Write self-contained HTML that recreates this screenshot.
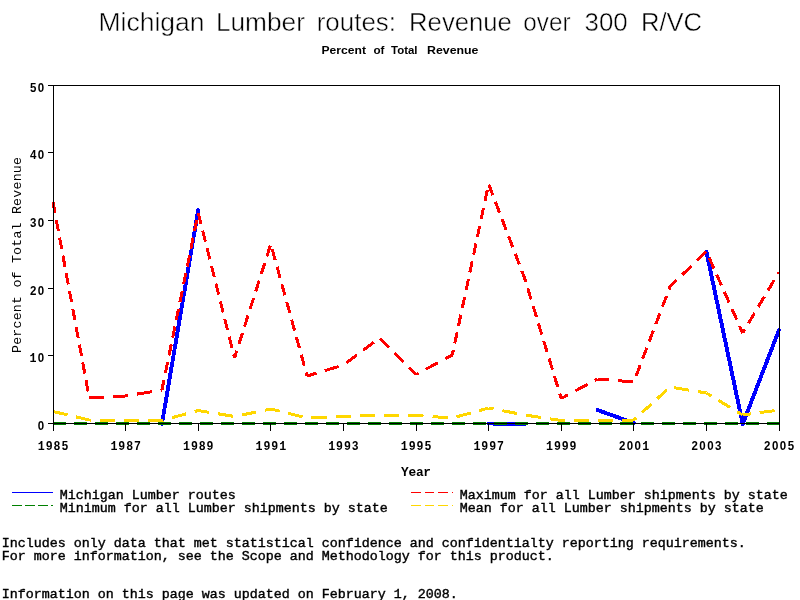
<!DOCTYPE html>
<html><head><meta charset="utf-8"><title>Michigan Lumber routes</title>
<style>html,body{margin:0;padding:0;background:#fff;overflow:hidden}svg{display:block;will-change:transform}</style></head>
<body>
<svg width="800" height="600" viewBox="0 0 800 600">
<rect width="800" height="600" fill="#fff"/>
<g shape-rendering="crispEdges" fill="none" stroke-width="3" stroke-linecap="butt" stroke-linejoin="miter">
<polyline points="161.9,424.0 198.2,210.0" stroke="#0000ff" stroke-width="3.9" stroke-linecap="round" stroke-linejoin="round"/>
<polyline points="488.6,423.5 524.9,424.0" stroke="#0000ff" stroke-width="3.9" stroke-linecap="round" stroke-linejoin="round"/>
<polyline points="597.5,410.0 633.8,423.0" stroke="#0000ff" stroke-width="3.9" stroke-linecap="round" stroke-linejoin="round"/>
<polyline points="706.4,251.5 742.7,424.0 779.0,330.0" stroke="#0000ff" stroke-width="3.9" stroke-linecap="round" stroke-linejoin="round"/>
<path d="M53.00 202.00L55.06 213.14M56.30 219.83L58.37 230.97M59.60 237.66L61.67 248.80M62.91 255.49L64.97 266.63M66.21 273.32L68.27 284.46M69.51 291.14L71.57 302.29M72.81 308.97L74.88 320.12M76.11 326.80L78.18 337.94M79.42 344.63L81.48 355.77M82.72 362.46L84.78 373.60M86.02 380.29L88.08 391.43M89.46 397.99L104.42 397.17M113.39 396.67L125.60 396.00M125.60 396.00L128.30 395.55M137.08 394.10L151.73 391.68M160.52 390.23L161.90 390.00M161.90 390.00L163.97 379.93M165.33 373.26L167.61 362.14M168.98 355.46L171.26 344.35M172.63 337.67L174.91 326.55M176.28 319.88L178.56 308.76M179.93 302.09L182.21 290.97M183.58 284.30L185.86 273.18M187.23 266.51L189.51 255.39M190.87 248.72L193.15 237.60M194.52 230.93L196.80 219.81M198.17 213.14L198.20 213.00M198.20 213.00L200.93 223.92M202.59 230.55L205.36 241.61M207.02 248.24L209.79 259.30M211.45 265.94L214.22 276.99M215.88 283.63L218.65 294.68M220.31 301.32L223.08 312.37M224.74 319.01L227.51 330.06M229.17 336.70L231.94 347.76M233.60 354.39L234.50 358.00M234.50 358.00L236.85 350.63M238.94 344.07L242.42 333.12M244.51 326.56L248.00 315.62M250.09 309.05L253.57 298.11M255.66 291.54L259.15 280.60M261.24 274.03L264.72 263.09M266.81 256.53L270.30 245.58M272.18 249.01L275.21 260.03M277.03 266.64L280.06 277.66M281.88 284.27L284.90 295.29M286.72 301.90L289.75 312.92M291.57 319.53L294.60 330.55M296.42 337.16L299.45 348.18M301.27 354.79L304.30 365.81M306.11 372.42L307.10 376.00M307.10 376.00L316.49 373.16M324.83 370.63L338.74 366.41M346.22 362.90L356.87 354.98M363.26 350.23L373.91 342.31M380.21 338.51L389.18 347.53M394.56 352.94L403.52 361.96M408.91 367.37L416.00 374.50M416.00 374.50L418.55 373.13M425.86 369.20L438.06 362.65M445.38 358.72L452.30 355.00M452.30 355.00L453.32 350.20M454.73 343.53L457.09 332.42M458.51 325.76L460.87 314.65M462.28 307.98L464.64 296.87M466.06 290.20L468.41 279.09M469.83 272.43L472.19 261.32M473.60 254.65L475.96 243.54M477.38 236.88L479.73 225.77M481.15 219.10L483.51 207.99M484.92 201.32L487.28 190.21M488.77 184.44L492.90 195.26M495.38 201.74L499.51 212.56M501.99 219.05L506.12 229.86M508.60 236.35L512.74 247.17M515.22 253.65L519.35 264.47M521.83 270.96L524.90 279.00M524.90 279.00L525.75 281.81M527.75 288.39L531.09 299.36M533.08 305.94L536.42 316.91M538.42 323.49L541.75 334.46M543.75 341.04L547.08 352.01M549.08 358.60L552.41 369.56M554.41 376.15L557.74 387.11M559.74 393.70L561.20 398.50M561.20 398.50L568.05 394.82M575.37 390.89L587.56 384.34M594.88 380.41L597.50 379.00M597.50 379.00L609.21 379.97M618.15 380.71L633.06 381.94M636.06 376.04L640.18 365.22M642.64 358.73L646.76 347.91M649.22 341.42L653.34 330.60M655.80 324.11L659.92 313.29M662.38 306.80L666.50 295.98M668.96 289.49L670.10 286.50M670.10 286.50L676.76 280.07M682.29 274.75L691.50 265.87M697.03 260.54L706.23 251.66M709.17 257.71L713.92 268.38M716.77 274.78L721.52 285.45M724.37 291.86L729.13 302.53M731.98 308.93L736.73 319.60M739.58 326.00L742.70 333.00M742.70 333.00L744.80 329.47M748.47 323.30L754.59 313.03M758.25 306.86L764.37 296.59M768.03 290.43L774.15 280.15M777.82 273.99L779.00 272.00" stroke="#ff0000"/>
<path d="M53.00 423.00L66.00 423.00M74.00 423.00L87.00 423.00M95.00 423.00L108.00 423.00M116.00 423.00L125.60 423.00M125.60 423.00L129.00 423.00M137.00 423.00L150.00 423.00M158.00 423.00L161.90 423.00M161.90 423.00L171.00 423.00M179.00 423.00L192.00 423.00M200.00 423.00L213.00 423.00M221.00 423.00L234.00 423.00M242.00 423.00L255.00 423.00M263.00 423.00L270.80 423.00M270.80 423.00L276.00 423.00M284.00 423.00L297.00 423.00M305.00 423.00L307.10 423.00M307.10 423.00L318.00 423.00M326.00 423.00L339.00 423.00M347.00 423.00L360.00 423.00M368.00 423.00L379.70 423.00M379.70 423.00L381.00 423.00M389.00 423.00L402.00 423.00M410.00 423.00L416.00 423.00M416.00 423.00L423.00 423.00M431.00 423.00L444.00 423.00M452.00 423.00L452.30 423.00M452.30 423.00L465.00 423.00M473.00 423.00L486.00 423.00M494.00 423.00L507.00 423.00M515.00 423.00L524.90 423.00M524.90 423.00L528.00 423.00M536.00 423.00L549.00 423.00M557.00 423.00L561.20 423.00M561.20 423.00L570.00 423.00M578.00 423.00L591.00 423.00M599.00 423.00L612.00 423.00M620.00 423.00L633.00 423.00M641.00 423.00L654.00 423.00M662.00 423.00L670.10 423.00M670.10 423.00L675.00 423.00M683.00 423.00L696.00 423.00M704.00 423.00L706.40 423.00M706.40 423.00L717.00 423.00M725.00 423.00L738.00 423.00M746.00 423.00L759.00 423.00M767.00 423.00L779.00 423.00" stroke="#008000"/>
<path d="M53.00 411.50L67.46 414.89M76.15 416.92L89.30 420.00M89.30 420.00L90.67 420.02M99.77 420.14L114.92 420.35M124.02 420.48L125.60 420.50M125.60 420.50L139.17 420.50M148.27 420.50L161.90 420.50M161.90 420.50L163.32 420.11M171.86 417.75L186.09 413.84M194.63 411.48L198.20 410.50M198.20 410.50L209.28 412.33M218.17 413.80L232.96 416.25M241.75 415.00L256.36 411.98M265.13 410.17L270.80 409.00M270.80 409.00L279.60 411.18M288.24 413.32L302.63 416.89M311.48 417.82L326.61 417.19M335.70 416.82L343.40 416.50M343.40 416.50L350.82 416.19M359.91 415.82L375.04 415.19M384.13 415.06L399.28 415.27M408.37 415.39L416.00 415.50M416.00 415.50L423.49 416.02M432.55 416.64L447.64 417.68M456.45 416.86L470.67 412.94M479.21 410.59L488.60 408.00M488.60 408.00L493.59 408.96M502.40 410.66L517.07 413.49M525.90 415.15L540.75 417.40M549.67 418.75L561.20 420.50M561.20 420.50L564.58 420.50M573.68 420.50L588.83 420.50M597.93 420.49L613.08 420.29M622.18 420.16L633.80 420.00M633.80 420.00L636.05 417.96M641.84 412.69L651.48 403.93M657.27 398.66L666.91 389.90M674.09 387.66L688.89 390.11M697.77 391.57L706.40 393.00M706.40 393.00L711.31 395.98M718.39 400.27L730.17 407.41M737.25 411.70L742.70 415.00M742.70 415.00L750.71 413.90M759.66 412.66L774.56 410.61" stroke="#ffd700"/>
</g>
<g shape-rendering="crispEdges" fill="none" stroke="#000" stroke-width="1">
<rect x="53.5" y="85.5" width="726" height="338"/>
<line x1="48" x2="53" y1="423.5" y2="423.5"/>
<line x1="48" x2="53" y1="355.5" y2="355.5"/>
<line x1="48" x2="53" y1="288.5" y2="288.5"/>
<line x1="48" x2="53" y1="220.5" y2="220.5"/>
<line x1="48" x2="53" y1="152.5" y2="152.5"/>
<line x1="48" x2="53" y1="85.5" y2="85.5"/>
<line x1="53.5" x2="53.5" y1="423" y2="431"/>
<line x1="125.5" x2="125.5" y1="423" y2="431"/>
<line x1="198.5" x2="198.5" y1="423" y2="431"/>
<line x1="270.5" x2="270.5" y1="423" y2="431"/>
<line x1="343.5" x2="343.5" y1="423" y2="431"/>
<line x1="416.5" x2="416.5" y1="423" y2="431"/>
<line x1="488.5" x2="488.5" y1="423" y2="431"/>
<line x1="561.5" x2="561.5" y1="423" y2="431"/>
<line x1="633.5" x2="633.5" y1="423" y2="431"/>
<line x1="706.5" x2="706.5" y1="423" y2="431"/>
<line x1="779.5" x2="779.5" y1="423" y2="431"/>
</g>
<g shape-rendering="crispEdges" fill="none" stroke-width="1">
<line x1="12" x2="53" y1="492.5" y2="492.5" stroke="#0000ff"/>
<line x1="12" x2="53" y1="505.5" y2="505.5" stroke="#008000" stroke-dasharray="10 3"/>
<line x1="411" x2="453" y1="492.5" y2="492.5" stroke="#ff0000" stroke-dasharray="9.5 4"/>
<line x1="411" x2="453" y1="505.5" y2="505.5" stroke="#ffd700" stroke-dasharray="9.5 4"/>
</g>
<g font-family="'Liberation Sans', sans-serif" fill="#000">
<text x="98.5" y="31" font-size="25.2" textLength="106.0" lengthAdjust="spacingAndGlyphs" stroke="#fff" stroke-width="0.45">Michigan</text>
<text x="215.9" y="31" font-size="25.2" textLength="89.1" lengthAdjust="spacingAndGlyphs" stroke="#fff" stroke-width="0.45">Lumber</text>
<text x="316.7" y="31" font-size="25.2" textLength="79.3" lengthAdjust="spacingAndGlyphs" stroke="#fff" stroke-width="0.45">routes:</text>
<text x="409.1" y="31" font-size="25.2" textLength="102.7" lengthAdjust="spacingAndGlyphs" stroke="#fff" stroke-width="0.45">Revenue</text>
<text x="523.3" y="31" font-size="25.2" textLength="47.2" lengthAdjust="spacingAndGlyphs" stroke="#fff" stroke-width="0.45">over</text>
<text x="584.5" y="31" font-size="25.2" textLength="43.2" lengthAdjust="spacingAndGlyphs" stroke="#fff" stroke-width="0.45">300</text>
<text x="640.9" y="31" font-size="25.2" textLength="61.2" lengthAdjust="spacingAndGlyphs" stroke="#fff" stroke-width="0.45">R/VC</text>
<text x="321.5" y="53.7" font-size="11" font-weight="bold" textLength="44.5" lengthAdjust="spacingAndGlyphs">Percent</text>
<text x="373.5" y="53.7" font-size="11" font-weight="bold" textLength="11.0" lengthAdjust="spacingAndGlyphs">of</text>
<text x="391.0" y="53.7" font-size="11" font-weight="bold" textLength="26.5" lengthAdjust="spacingAndGlyphs">Total</text>
<text x="427.0" y="53.7" font-size="11" font-weight="bold" textLength="51.5" lengthAdjust="spacingAndGlyphs">Revenue</text>
</g>
<g font-family="'Liberation Mono', monospace" fill="#000" font-size="13.33">
<text x="37.75" y="429.9" font-family="'Liberation Sans', sans-serif" font-weight="bold" font-size="13" textLength="6.4" lengthAdjust="spacingAndGlyphs">0</text>
<text x="29.60" y="361.9" font-family="'Liberation Mono', monospace" font-weight="bold" font-size="13.4" textLength="7" lengthAdjust="spacingAndGlyphs">1</text>
<text x="37.75" y="361.9" font-family="'Liberation Sans', sans-serif" font-weight="bold" font-size="13" textLength="6.4" lengthAdjust="spacingAndGlyphs">0</text>
<text x="29.90" y="294.9" font-family="'Liberation Sans', sans-serif" font-weight="bold" font-size="13" textLength="6.4" lengthAdjust="spacingAndGlyphs">2</text>
<text x="37.75" y="294.9" font-family="'Liberation Sans', sans-serif" font-weight="bold" font-size="13" textLength="6.4" lengthAdjust="spacingAndGlyphs">0</text>
<text x="29.90" y="226.9" font-family="'Liberation Sans', sans-serif" font-weight="bold" font-size="13" textLength="6.4" lengthAdjust="spacingAndGlyphs">3</text>
<text x="37.75" y="226.9" font-family="'Liberation Sans', sans-serif" font-weight="bold" font-size="13" textLength="6.4" lengthAdjust="spacingAndGlyphs">0</text>
<text x="29.90" y="158.9" font-family="'Liberation Sans', sans-serif" font-weight="bold" font-size="13" textLength="6.4" lengthAdjust="spacingAndGlyphs">4</text>
<text x="37.75" y="158.9" font-family="'Liberation Sans', sans-serif" font-weight="bold" font-size="13" textLength="6.4" lengthAdjust="spacingAndGlyphs">0</text>
<text x="29.90" y="91.9" font-family="'Liberation Sans', sans-serif" font-weight="bold" font-size="13" textLength="6.4" lengthAdjust="spacingAndGlyphs">5</text>
<text x="37.75" y="91.9" font-family="'Liberation Sans', sans-serif" font-weight="bold" font-size="13" textLength="6.4" lengthAdjust="spacingAndGlyphs">0</text>
<text x="37.80" y="450.2" font-family="'Liberation Mono', monospace" font-weight="bold" font-size="13.4" textLength="7" lengthAdjust="spacingAndGlyphs">1</text>
<text x="45.95" y="450.2" font-family="'Liberation Sans', sans-serif" font-weight="bold" font-size="13" textLength="6.4" lengthAdjust="spacingAndGlyphs">9</text>
<text x="53.80" y="450.2" font-family="'Liberation Sans', sans-serif" font-weight="bold" font-size="13" textLength="6.4" lengthAdjust="spacingAndGlyphs">8</text>
<text x="61.65" y="450.2" font-family="'Liberation Sans', sans-serif" font-weight="bold" font-size="13" textLength="6.4" lengthAdjust="spacingAndGlyphs">5</text>
<text x="110.40" y="450.2" font-family="'Liberation Mono', monospace" font-weight="bold" font-size="13.4" textLength="7" lengthAdjust="spacingAndGlyphs">1</text>
<text x="118.55" y="450.2" font-family="'Liberation Sans', sans-serif" font-weight="bold" font-size="13" textLength="6.4" lengthAdjust="spacingAndGlyphs">9</text>
<text x="126.40" y="450.2" font-family="'Liberation Sans', sans-serif" font-weight="bold" font-size="13" textLength="6.4" lengthAdjust="spacingAndGlyphs">8</text>
<text x="134.25" y="450.2" font-family="'Liberation Sans', sans-serif" font-weight="bold" font-size="13" textLength="6.4" lengthAdjust="spacingAndGlyphs">7</text>
<text x="183.00" y="450.2" font-family="'Liberation Mono', monospace" font-weight="bold" font-size="13.4" textLength="7" lengthAdjust="spacingAndGlyphs">1</text>
<text x="191.15" y="450.2" font-family="'Liberation Sans', sans-serif" font-weight="bold" font-size="13" textLength="6.4" lengthAdjust="spacingAndGlyphs">9</text>
<text x="199.00" y="450.2" font-family="'Liberation Sans', sans-serif" font-weight="bold" font-size="13" textLength="6.4" lengthAdjust="spacingAndGlyphs">8</text>
<text x="206.85" y="450.2" font-family="'Liberation Sans', sans-serif" font-weight="bold" font-size="13" textLength="6.4" lengthAdjust="spacingAndGlyphs">9</text>
<text x="255.60" y="450.2" font-family="'Liberation Mono', monospace" font-weight="bold" font-size="13.4" textLength="7" lengthAdjust="spacingAndGlyphs">1</text>
<text x="263.75" y="450.2" font-family="'Liberation Sans', sans-serif" font-weight="bold" font-size="13" textLength="6.4" lengthAdjust="spacingAndGlyphs">9</text>
<text x="271.60" y="450.2" font-family="'Liberation Sans', sans-serif" font-weight="bold" font-size="13" textLength="6.4" lengthAdjust="spacingAndGlyphs">9</text>
<text x="279.15" y="450.2" font-family="'Liberation Mono', monospace" font-weight="bold" font-size="13.4" textLength="7" lengthAdjust="spacingAndGlyphs">1</text>
<text x="328.20" y="450.2" font-family="'Liberation Mono', monospace" font-weight="bold" font-size="13.4" textLength="7" lengthAdjust="spacingAndGlyphs">1</text>
<text x="336.35" y="450.2" font-family="'Liberation Sans', sans-serif" font-weight="bold" font-size="13" textLength="6.4" lengthAdjust="spacingAndGlyphs">9</text>
<text x="344.20" y="450.2" font-family="'Liberation Sans', sans-serif" font-weight="bold" font-size="13" textLength="6.4" lengthAdjust="spacingAndGlyphs">9</text>
<text x="352.05" y="450.2" font-family="'Liberation Sans', sans-serif" font-weight="bold" font-size="13" textLength="6.4" lengthAdjust="spacingAndGlyphs">3</text>
<text x="400.80" y="450.2" font-family="'Liberation Mono', monospace" font-weight="bold" font-size="13.4" textLength="7" lengthAdjust="spacingAndGlyphs">1</text>
<text x="408.95" y="450.2" font-family="'Liberation Sans', sans-serif" font-weight="bold" font-size="13" textLength="6.4" lengthAdjust="spacingAndGlyphs">9</text>
<text x="416.80" y="450.2" font-family="'Liberation Sans', sans-serif" font-weight="bold" font-size="13" textLength="6.4" lengthAdjust="spacingAndGlyphs">9</text>
<text x="424.65" y="450.2" font-family="'Liberation Sans', sans-serif" font-weight="bold" font-size="13" textLength="6.4" lengthAdjust="spacingAndGlyphs">5</text>
<text x="473.40" y="450.2" font-family="'Liberation Mono', monospace" font-weight="bold" font-size="13.4" textLength="7" lengthAdjust="spacingAndGlyphs">1</text>
<text x="481.55" y="450.2" font-family="'Liberation Sans', sans-serif" font-weight="bold" font-size="13" textLength="6.4" lengthAdjust="spacingAndGlyphs">9</text>
<text x="489.40" y="450.2" font-family="'Liberation Sans', sans-serif" font-weight="bold" font-size="13" textLength="6.4" lengthAdjust="spacingAndGlyphs">9</text>
<text x="497.25" y="450.2" font-family="'Liberation Sans', sans-serif" font-weight="bold" font-size="13" textLength="6.4" lengthAdjust="spacingAndGlyphs">7</text>
<text x="546.00" y="450.2" font-family="'Liberation Mono', monospace" font-weight="bold" font-size="13.4" textLength="7" lengthAdjust="spacingAndGlyphs">1</text>
<text x="554.15" y="450.2" font-family="'Liberation Sans', sans-serif" font-weight="bold" font-size="13" textLength="6.4" lengthAdjust="spacingAndGlyphs">9</text>
<text x="562.00" y="450.2" font-family="'Liberation Sans', sans-serif" font-weight="bold" font-size="13" textLength="6.4" lengthAdjust="spacingAndGlyphs">9</text>
<text x="569.85" y="450.2" font-family="'Liberation Sans', sans-serif" font-weight="bold" font-size="13" textLength="6.4" lengthAdjust="spacingAndGlyphs">9</text>
<text x="618.90" y="450.2" font-family="'Liberation Sans', sans-serif" font-weight="bold" font-size="13" textLength="6.4" lengthAdjust="spacingAndGlyphs">2</text>
<text x="626.75" y="450.2" font-family="'Liberation Sans', sans-serif" font-weight="bold" font-size="13" textLength="6.4" lengthAdjust="spacingAndGlyphs">0</text>
<text x="634.60" y="450.2" font-family="'Liberation Sans', sans-serif" font-weight="bold" font-size="13" textLength="6.4" lengthAdjust="spacingAndGlyphs">0</text>
<text x="642.15" y="450.2" font-family="'Liberation Mono', monospace" font-weight="bold" font-size="13.4" textLength="7" lengthAdjust="spacingAndGlyphs">1</text>
<text x="691.50" y="450.2" font-family="'Liberation Sans', sans-serif" font-weight="bold" font-size="13" textLength="6.4" lengthAdjust="spacingAndGlyphs">2</text>
<text x="699.35" y="450.2" font-family="'Liberation Sans', sans-serif" font-weight="bold" font-size="13" textLength="6.4" lengthAdjust="spacingAndGlyphs">0</text>
<text x="707.20" y="450.2" font-family="'Liberation Sans', sans-serif" font-weight="bold" font-size="13" textLength="6.4" lengthAdjust="spacingAndGlyphs">0</text>
<text x="715.05" y="450.2" font-family="'Liberation Sans', sans-serif" font-weight="bold" font-size="13" textLength="6.4" lengthAdjust="spacingAndGlyphs">3</text>
<text x="764.10" y="450.2" font-family="'Liberation Sans', sans-serif" font-weight="bold" font-size="13" textLength="6.4" lengthAdjust="spacingAndGlyphs">2</text>
<text x="771.95" y="450.2" font-family="'Liberation Sans', sans-serif" font-weight="bold" font-size="13" textLength="6.4" lengthAdjust="spacingAndGlyphs">0</text>
<text x="779.80" y="450.2" font-family="'Liberation Sans', sans-serif" font-weight="bold" font-size="13" textLength="6.4" lengthAdjust="spacingAndGlyphs">0</text>
<text x="787.65" y="450.2" font-family="'Liberation Sans', sans-serif" font-weight="bold" font-size="13" textLength="6.4" lengthAdjust="spacingAndGlyphs">5</text>
<text x="401" y="475.5" font-weight="bold" font-size="12.8" textLength="30" lengthAdjust="spacing">Year</text>
<text transform="translate(20.5,353) rotate(-90)" x="0" y="0" textLength="196" lengthAdjust="spacing">Percent of Total Revenue</text>
<text x="59.7" y="498.7" textLength="176.0" lengthAdjust="spacing" stroke="#000" stroke-width="0.4" xml:space="preserve">Michigan Lumber routes</text>
<text x="59.7" y="512.0" textLength="328.0" lengthAdjust="spacing" stroke="#000" stroke-width="0.4" xml:space="preserve">Minimum for all Lumber shipments by state</text>
<text x="459.7" y="498.7" textLength="328.0" lengthAdjust="spacing" stroke="#000" stroke-width="0.4" xml:space="preserve">Maximum for all Lumber shipments by state</text>
<text x="459.7" y="512.0" textLength="304.0" lengthAdjust="spacing" stroke="#000" stroke-width="0.4" xml:space="preserve">Mean for all Lumber shipments by state</text>
<text x="1.7" y="547.0" textLength="744.0" lengthAdjust="spacing" stroke="#000" stroke-width="0.4" xml:space="preserve">Includes only data that met statistical confidence and confidentialty reporting requirements.</text>
<text x="1.7" y="560.0" textLength="552.0" lengthAdjust="spacing" stroke="#000" stroke-width="0.4" xml:space="preserve">For more information, see the Scope and Methodology for this product.</text>
<text x="1.7" y="598.3" textLength="456.0" lengthAdjust="spacing" stroke="#000" stroke-width="0.4" xml:space="preserve">Information on this page was updated on February 1, 2008.</text>
</g>
</svg>
</body></html>
